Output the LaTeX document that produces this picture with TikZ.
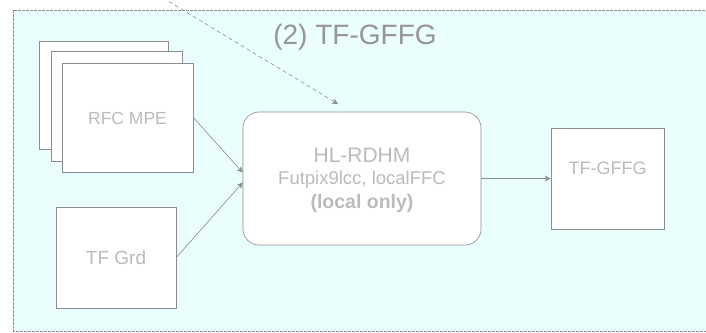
\documentclass[tikz,border=0pt]{standalone}
\usepackage{fontspec}
\setmainfont{Liberation Sans}
\usetikzlibrary{arrows.meta}
\definecolor{bgcyan}{HTML}{EAFEFE}
\definecolor{linegray}{HTML}{8C8C8C}
\definecolor{textgray}{HTML}{BBBBBB}
\begin{document}
\begin{tikzpicture}[x=1pt,y=-1pt,
  box/.style={draw=linegray, line width=0.6pt, fill=white},
  lbl/.style={text=textgray, align=center},
  conn/.style={draw=linegray, line width=0.6pt, -{Stealth[length=6pt,width=6pt]}},
  dconn/.style={conn, dash pattern=on 4pt off 3pt}]
\useasboundingbox (0,0) rectangle (706,332);
\fill[white] (0,0) rectangle (706,332);
\draw[draw=linegray, fill=bgcyan, line width=0.6pt, dash pattern=on 3pt off 1pt] (13,10) rectangle (712,331);
\node[lbl, font=\fontsize{28}{32}\selectfont, text=textgray!80!black] (title) at (355,37) {(2) TF-GFFG};
% stacked RFC MPE boxes
\draw[box] (39,41) rectangle (168,149);
\draw[box] (51,51) rectangle (182,161);
\node[box, minimum width=131pt, minimum height=109pt, inner sep=0pt] (rfc) at (127.5,117.5) {};
\node[lbl, font=\fontsize{17.5}{20}\selectfont] (rfct) at (127.5,118) {RFC MPE};
\node[box, minimum width=120pt, minimum height=101pt, inner sep=0pt] (tfgrd) at (116,257.5) {};
\node[lbl, font=\fontsize{19}{22}\selectfont] (tfgrdt) at (116,258) {TF Grd};
\node[box, rounded corners=16pt, minimum width=238pt, minimum height=133pt, inner sep=0pt] (hl) at (362,178.5) {};
\node[lbl, font=\fontsize{21}{24}\selectfont] (hl1) at (362,155) {HL-RDHM};
\node[lbl, font=\fontsize{18.5}{22}\selectfont] (hl2) at (362,180) {Futpix9lcc, localFFC};
\node[lbl, font=\bfseries\fontsize{19.5}{22}\selectfont] (hl3) at (362,203) {(local only)};
\node[box, minimum width=113pt, minimum height=101pt, inner sep=0pt] (gffg) at (607.5,178.5) {};
\node[lbl, font=\fontsize{18}{21}\selectfont] (gffgt) at (607.5,168) {TF-GFFG};
% connectors
\draw[conn] (rfc.east) -- ([yshift=6pt]hl.west);
\draw[conn] (tfgrd.east) -- ([yshift=-4pt]hl.west);
\draw[conn] (hl.east) -- (gffg.west);
\coordinate (topsrc) at (163,-2);
\coordinate (topin) at (338,104);
\draw[dconn] (topsrc) -- (topin);
\end{tikzpicture}
\end{document}
